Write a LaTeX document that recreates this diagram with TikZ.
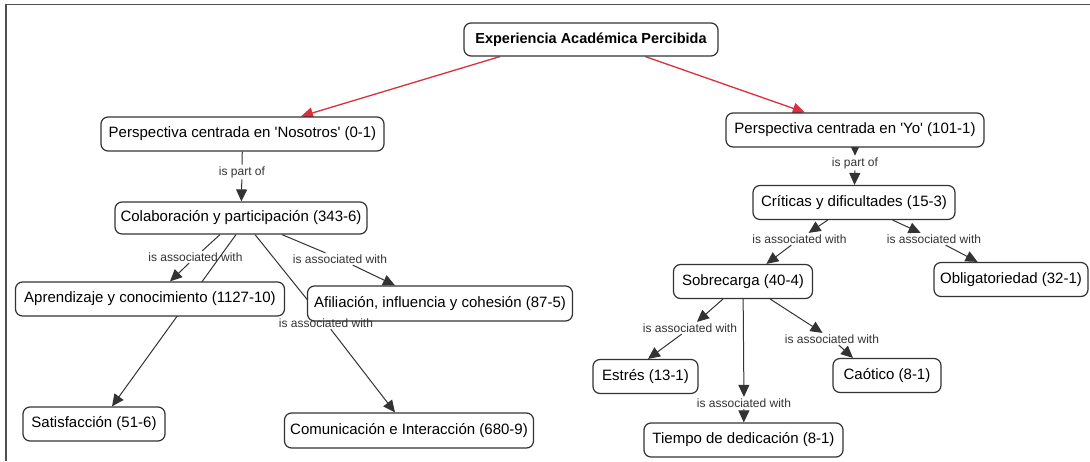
\documentclass[tikz,border=0pt]{standalone}
\usepackage{fontspec}
\setmainfont{Liberation Sans}
\usetikzlibrary{arrows.meta,backgrounds}
\pgfdeclarelayer{bgfill}
\pgfsetlayers{bgfill,background,main}
\definecolor{edgec}{HTML}{333333}
\definecolor{redc}{HTML}{D9303E}
\definecolor{framec}{HTML}{505050}
\begin{document}
\begin{tikzpicture}[x=1pt,y=-1pt,
  concept/.style={draw=edgec, line width=1.2pt, rounded corners=7pt, fill=white,
    minimum height=34pt, inner sep=0pt, font=\fontsize{15}{18}\selectfont, text=black},
  lnk/.style={inner sep=1.5pt, font=\fontsize{12}{14}\selectfont, text=black!80},
  con/.style={draw=edgec, line width=1pt},
  arr/.style={con, -{Triangle[length=12pt,width=11pt]}},
  redarr/.style={draw=redc, line width=1.3pt, -{Triangle[length=12pt,width=11pt]}},
  framestyle/.style={draw=framec, line width=1.5pt}
]
\useasboundingbox (0,0) rectangle (1090,461);
\begin{pgfonlayer}{bgfill}
  \fill[white] (0,0) rectangle (1090,461);
  \coordinate (ftl) at (5.8,4.5);
  \coordinate (ftr) at (1090,4.5);
  \coordinate (fbl) at (5.8,461);
  \draw[framestyle] (fbl) -- (ftl) -- (ftr);
\end{pgfonlayer}

% concepts
\node[concept, minimum width=254pt, minimum height=33pt, font=\fontsize{14.5}{17}\selectfont\bfseries] (exp) at (591,39.5) {Experiencia Académica Percibida};
\node[concept, minimum width=283pt] (nos) at (242.5,134) {Perspectiva centrada en \textquotesingle Nosotros\textquotesingle\ (0-1)};
\node[concept, minimum width=258pt] (yo) at (855,130) {Perspectiva centrada en \textquotesingle Yo\textquotesingle\ (101-1)};
\node[concept, minimum width=252pt, minimum height=32pt] (col) at (241,218) {Colaboración y participación (343-6)};
\node[concept, minimum width=202pt] (cri) at (854,202.5) {Críticas y dificultades (15-3)};
\node[concept, minimum width=269pt] (apr) at (150,299) {Aprendizaje y conocimiento (1127-10)};
\node[concept, minimum width=265pt, minimum height=35pt] (afi) at (440,303.5) {Afiliación, influencia y cohesión (87-5)};
\node[concept, minimum width=142pt] (sat) at (94,424) {Satisfacción (51-6)};
\node[concept, minimum width=249pt, minimum height=35pt] (com) at (409,430.5) {Comunicación e Interacción (680-9)};
\node[concept, minimum width=139pt] (sob) at (743,281.5) {Sobrecarga (40-4)};
\node[concept, minimum width=154pt] (obl) at (1011,279.5) {Obligatoriedad (32-1)};
\node[concept, minimum width=105pt] (est) at (645.5,376.5) {Estrés (13-1)};
\node[concept, minimum width=108pt] (cao) at (887,375.5) {Caótico (8-1)};
\node[concept, minimum width=199pt] (tie) at (743.5,440) {Tiempo de dedicación (8-1)};

% linking phrases
\node[lnk] (lp1) at (242,172) {is part of};
\node[lnk] (lp2) at (855,163) {is part of};
\node[lnk] (la1) at (195.5,257) {is associated with};
\node[lnk] (la2) at (340,259) {is associated with};
\node[lnk] (la3) at (326,323) {is associated with};
\node[lnk] (la4) at (799.5,239) {is associated with};
\node[lnk] (la5) at (934,239) {is associated with};
\node[lnk] (la6) at (690,328) {is associated with};
\node[lnk] (la7) at (744,403) {is associated with};
\node[lnk] (la8) at (832,339) {is associated with};

\begin{pgfonlayer}{background}
  \draw[redarr] ([xshift=36.5pt]exp.south west) -- (nos);
  \draw[redarr] ([xshift=182pt]exp.south west) -- (yo);
  \draw[con] (nos) -- (lp1);
  \draw[arr] (lp1) -- (col);
  \draw[arr] (yo) -- (lp2);
  \draw[arr] (lp2) -- (cri);
  \draw[con] ([xshift=-21pt]col.south) -- (la1);
  \draw[arr] (la1) -- ([xshift=20pt]apr.north);
  \draw[arr] ([xshift=-5pt]col.south) -- ([xshift=18pt]sat.north);
  \draw[con] ([xshift=41pt]col.south) -- (la2);
  \draw[arr] (la2) -- ([xshift=-45pt]afi.north);
  \draw[con] ([xshift=14pt]col.south) -- (la3);
  \draw[arr] (la3) -- ([xshift=-14pt]com.north);
  \draw[arr] (cri) -- (la4);
  \draw[arr] (la4) -- (sob);
  \draw[arr] (cri) -- (la5);
  \draw[arr] (la5) -- (obl);
  \draw[arr] (sob) -- (la6);
  \draw[arr] (la6) -- ([xshift=2.5pt]est.north);
  \draw[arr] (sob) -- (la7);
  \draw[arr] (la7) -- (tie);
  \draw[arr] (sob) -- (la8);
  \draw[arr] (la8) -- ([xshift=-34pt]cao.north);
\end{pgfonlayer}
\end{tikzpicture}
\end{document}
